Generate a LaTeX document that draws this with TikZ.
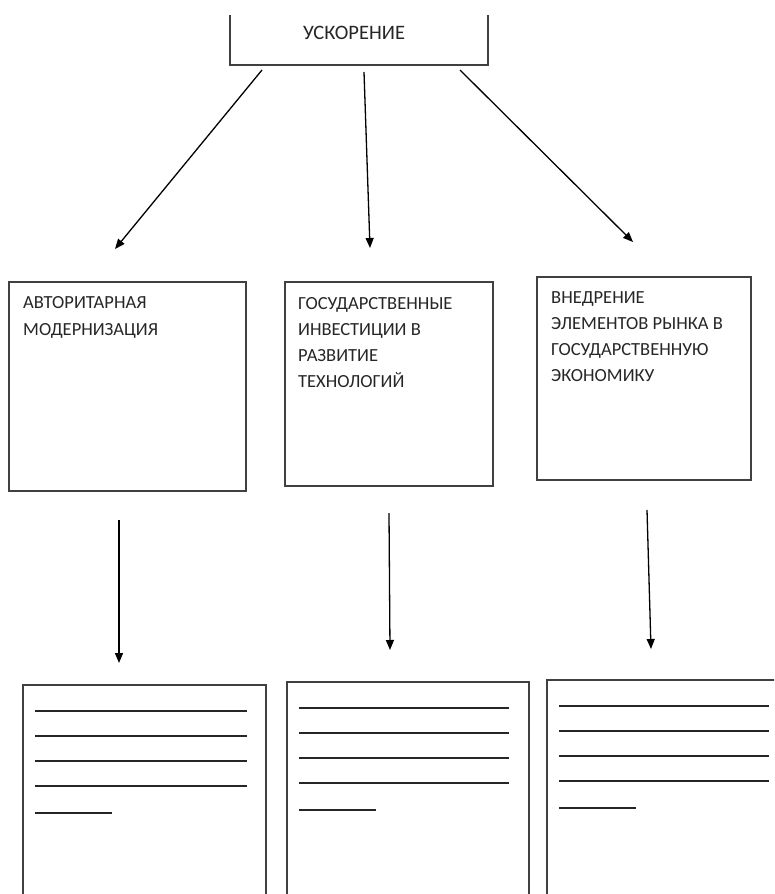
\documentclass[tikz,border=0pt]{standalone}
\usepackage{fontspec}
\setmainfont{Carlito}
\usetikzlibrary{arrows.meta}

\begin{document}
\begin{tikzpicture}
[x=1pt,y=-1pt,
  boxdecorate/.style={draw=black!75,line width=1.2pt,inner sep=0pt,outer sep=0pt},
  textdecorate/.style={anchor=north west,align=left,inner sep=0pt,text=black!85,
    font=\fontsize{18.5}{26}\selectfont},
  arrowdecorate/.style={-{Triangle[length=10pt,width=8pt]},line width=1.3pt},
  linedecorate/.style={line width=1.1pt,black!85}]
%%
%% Frame of the sheet
\useasboundingbox (0,0) rectangle (774,894);
\clip (0,0) rectangle (774,894);
%%
%% Top box (its upper edge is cut off)
\begin{scope}
  \clip (0,15) rectangle (774,894);
  \node (top) at (359,35) [boxdecorate,minimum width=258pt,minimum height=60pt] {};
\end{scope}
\node (toplabel) at (354,33) [text=black!85,font=\fontsize{20.5}{24}\selectfont] {УСКОРЕНИЕ};
%%
%% Middle boxes
\foreach \nodename/\x/\y/\w/\h in {
  A/9/282/237/209, B/285/282/208/204, C/537/277/214/203}
{
  \node (\nodename) at (\x,\y) [boxdecorate,anchor=north west,
    minimum width=\w pt,minimum height=\h pt] {};
}
\node (Atext) at ([shift={(14,14)}]A.north west) [textdecorate,
  font=\fontsize{18.5}{27}\selectfont] {АВТОРИТАРНАЯ\\МОДЕРНИЗАЦИЯ};
\node (Btext) at ([shift={(13,15)}]B.north west) [textdecorate]
  {ГОСУДАРСТВЕННЫЕ\\ИНВЕСТИЦИИ В\\РАЗВИТИЕ\\ТЕХНОЛОГИЙ};
\node (Ctext) at ([shift={(14,14)}]C.north west) [textdecorate]
  {ВНЕДРЕНИЕ\\ЭЛЕМЕНТОВ РЫНКА В\\ГОСУДАРСТВЕННУЮ\\ЭКОНОМИКУ};
%%
%% Bottom boxes (cut off below and on the right)
\foreach \nodename/\x/\y/\w in {D/23/685/243, E/287/682/242, F/547/680/260}
{
  \node (\nodename) at (\x,\y) [boxdecorate,anchor=north west,
    minimum width=\w pt,minimum height=260pt] {};
}
%% blank lines to fill in
\foreach \nodename/\len/\short in {D/212/77, E/210/77, F/210/77}
{
  \foreach \k in {0,1,2,3}
    \draw[linedecorate] ([shift={(12,26+25*\k)}]\nodename.north west)
      -- ++(\len,0);
  \draw[linedecorate] ([shift={(12,128)}]\nodename.north west) -- ++(\short,0);
}
%%
%% Arrow ends
\foreach \name/\x/\y in {
  s1/262/70, e1/115/249, s2/364/72, e2/370/248, s3/460/70, e3/633/242,
  s4/119/520, e4/119/663, s5/389/513, e5/390/650, s6/647/510, e6/651/649}
{
  \coordinate (\name) at (\x,\y);
}
\path
\foreach \startnode/\endnode in {s1/e1, s2/e2, s3/e3, s4/e4, s5/e5, s6/e6} {
  (\startnode) edge[arrowdecorate] (\endnode)
};
\end{tikzpicture}
\end{document}
